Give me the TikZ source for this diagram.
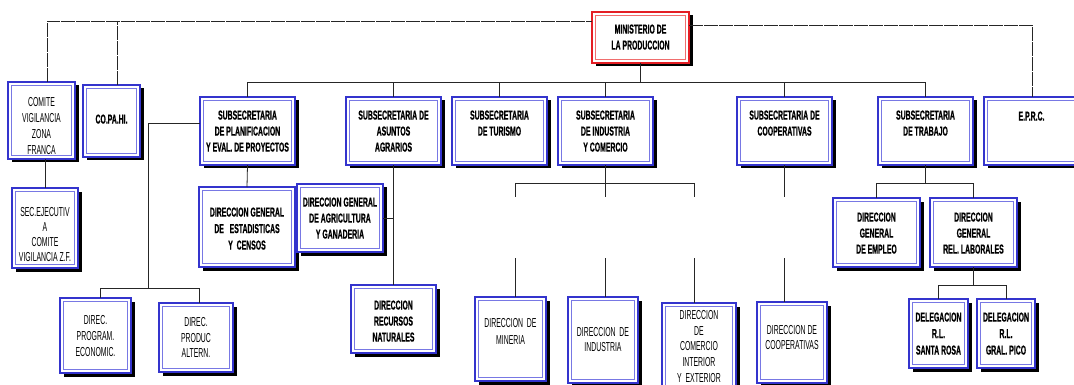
\documentclass[tikz,border=0pt]{standalone}
\usepackage{fontspec}
\setmainfont{Liberation Sans}[FakeStretch=0.53,BoldFeatures={FakeBold=0.6}]
\usetikzlibrary{shadows}
\definecolor{boxblue}{RGB}{52,52,205}
\definecolor{inblue}{RGB}{120,120,228}
\definecolor{minred}{RGB}{228,30,36}
\definecolor{inred}{RGB}{240,110,110}
\newcommand\lsp[1]{\fontsize{13}{#1}\selectfont}
\newcommand\orgbox[8][]{%
  \node[obox,#1,minimum width={#5-#3},minimum height={#6-#4}] (#2) at ({(#3+#5)/2},{(#4+#6)/2})
  {\parbox[c][\dimexpr#6pt-#4pt\relax][t]{\dimexpr#5pt-#3pt\relax}{\centering\vspace*{\dimexpr#7pt-4.5pt\relax}#8\par}};
  \draw[inln] ([xshift=3.6pt,yshift=-3.6pt]#2.north west) rectangle ([xshift=-3.6pt,yshift=3.6pt]#2.south east);}
\begin{document}
\begin{tikzpicture}[x=1pt,y=-1pt,
  obox/.style={draw=boxblue,line width=2pt,fill=white,inner sep=0pt,outer sep=0pt,
    drop shadow={shadow xshift=3.5pt,shadow yshift=-3.5pt,fill=black,opacity=1},
    font=\fontsize{13}{16}\selectfont\bfseries},
  reg/.style={font=\fontsize{13}{16}\selectfont},
  inln/.style={draw=inblue,line width=1.1pt},
  conn/.style={draw=black!85,line width=0.8pt},
  topline/.style={draw=black!85,line width=0.8pt,dash pattern=on 14pt off 1pt}]
\useasboundingbox (0,0) rectangle (1074,385);
% boxes
\orgbox[draw=minred]{min}{592}{12}{689}{63}{17}{MINISTERIO DE\\LA PRODUCCION}
\draw[inln,draw=inred] ([xshift=3.6pt,yshift=-3.6pt]min.north west) rectangle ([xshift=-3.6pt,yshift=3.6pt]min.south east);
\orgbox[reg]{comite}{8}{82}{75}{159}{20}{COMITE\\VIGILANCIA\\ZONA\\FRANCA}
\orgbox{copahi}{83}{85}{140}{157}{34}{CO.PA.HI.}
\orgbox{plan}{200}{97}{295}{165}{18}{SUBSECRETARIA\\DE PLANIFICACION\\Y EVAL. DE PROYECTOS}
\orgbox{asa}{346}{97}{441}{165}{18}{SUBSECRETARIA DE\\ASUNTOS\\AGRARIOS}
\orgbox{tur}{452}{97}{547}{165}{18}{SUBSECRETARIA\\DE TURISMO}
\orgbox{ic}{558}{97}{653}{165}{18}{SUBSECRETARIA\\DE INDUSTRIA\\Y COMERCIO}
\orgbox{coop}{737}{97}{832}{165}{18}{SUBSECRETARIA DE\\COOPERATIVAS}
\orgbox{trab}{878}{97}{973}{165}{18}{SUBSECRETARIA\\DE TRABAJO}
\orgbox{eprc}{984}{97}{1079}{165}{19}{E.P.R.C.}
\orgbox[reg]{sec}{12}{188}{78}{268}{24}{\lsp{15}SEC.EJECUTIV\\A\\COMITE\\VIGILANCIA Z.F.}
\orgbox{est}{199}{187}{295}{267}{25}{\lsp{16.5}DIRECCION GENERAL\\DE\ \ \ ESTADISTICAS\\Y\ \ CENSOS}
\orgbox{agr}{297}{184}{383}{252}{18}{DIRECCION GENERAL\\DE AGRICULTURA\\Y GANADERIA}
\orgbox{rn}{351}{285}{436}{353}{20}{DIRECCION\\RECURSOS\\NATURALES}
\orgbox[reg]{prog}{60}{298}{131}{373}{22}{DIREC.\\PROGRAM.\\ECONOMIC.}
\orgbox[reg]{prod}{159}{303}{233}{372}{19}{\lsp{15.5}DIREC.\\PRODUC\\ALTERN.}
\orgbox[reg]{mindir}{475}{297}{546}{381}{26}{\lsp{17}DIRECCION\ \ DE\\MINERIA}
\orgbox[reg]{ind}{568}{297}{638}{383}{35}{\lsp{15}DIRECCION\ \ DE\\INDUSTRIA}
\orgbox[reg]{com}{662}{303}{736}{392}{12}{\lsp{15.7}DIRECCION\\DE\\COMERCIO\\INTERIOR\\Y\ \ EXTERIOR}
\orgbox[reg]{coopdir}{757}{302}{827}{383}{28}{\lsp{15}DIRECCION DE\\COOPERATIVAS}
\orgbox{emp}{833}{198}{920}{267}{19}{DIRECCION\\GENERAL\\DE EMPLEO}
\orgbox{rl}{930}{198}{1017}{267}{19}{DIRECCION\\GENERAL\\REL. LABORALES}
\orgbox{sr}{909}{299}{968}{368}{18}{\lsp{16.5}DELEGACION\\R.L.\\SANTA ROSA}
\orgbox{gp}{977}{299}{1035}{368}{18}{\lsp{16.5}DELEGACION\\R.L.\\GRAL. PICO}
% top dashed links
\coordinate (tl) at (47,21);
\coordinate (tc) at (117,21);
\coordinate (tr) at (1032,25);
\draw[topline] (tl |- comite.north) -- (tl) -- (tl -| min.west);
\draw[topline] (tc |- copahi.north) -- (tc);
\draw[topline] (tr -| min.east) -- (tr) -- (tr |- eprc.north);
% ministerio bus
\coordinate (bus) at (641,82);
\draw[conn] (min.south) -- (min.south |- bus);
\draw[conn] (plan.north |- bus) -- (trab.north |- bus);
\foreach \n in {plan,asa,tur,ic,coop,trab} \draw[conn] (\n.north) -- (\n.north |- bus);
% comite
\draw[conn] (sec.north |- comite.south) -- (sec.north);
% planificacion
\coordinate (pw) at (148,123);
\coordinate (pv) at (148,288);
\coordinate (pa) at (100,288);
\coordinate (pb) at (199,288);
\draw[conn] (pw -| plan.west) -- (pw) -- (pv);
\draw[conn] (pa |- prog.north) -- (pa) -- (pb) -- (pb |- prod.north);
\draw[conn] (plan.south) -- (est.north);
% asuntos agrarios
\draw[conn] (asa.south) -- (rn.north);
\draw[conn] (agr.east) -- (agr.east -| asa.south);
% industria y comercio
\coordinate (icb) at (605,183);
\coordinate (m1) at (515,183);
\coordinate (m3) at (694,183);
\coordinate (g) at (0,258);
\draw[conn] (ic.south) -- (ic.south |- icb);
\draw[conn] (m1) -- (m3);
\foreach \c in {m1,icb,m3} \draw[conn] (\c) -- ++(0,14);
\draw[conn] (m1 |- g) -- (m1 |- mindir.north);
\draw[conn] (icb |- g) -- (icb |- ind.north);
\draw[conn] (m3 |- g) -- (m3 |- com.north);
% cooperativas
\coordinate (cg) at (784,197);
\draw[conn] (coop.south) -- (coop.south |- cg);
\draw[conn] (coop.south |- g) -- (coop.south |- coopdir.north);
% trabajo
\coordinate (tb) at (926,183);
\draw[conn] (trab.south) -- (trab.south |- tb);
\draw[conn] (emp.north |- tb) -- (rl.north |- tb);
\draw[conn] (emp.north) -- (emp.north |- tb);
\draw[conn] (rl.north) -- (rl.north |- tb);
\coordinate (rb) at (973,285);
\draw[conn] (rl.south) -- (rl.south |- rb);
\draw[conn] (sr.north |- rb) -- (gp.north |- rb);
\draw[conn] (sr.north) -- (sr.north |- rb);
\draw[conn] (gp.north) -- (gp.north |- rb);
\end{tikzpicture}
\end{document}
